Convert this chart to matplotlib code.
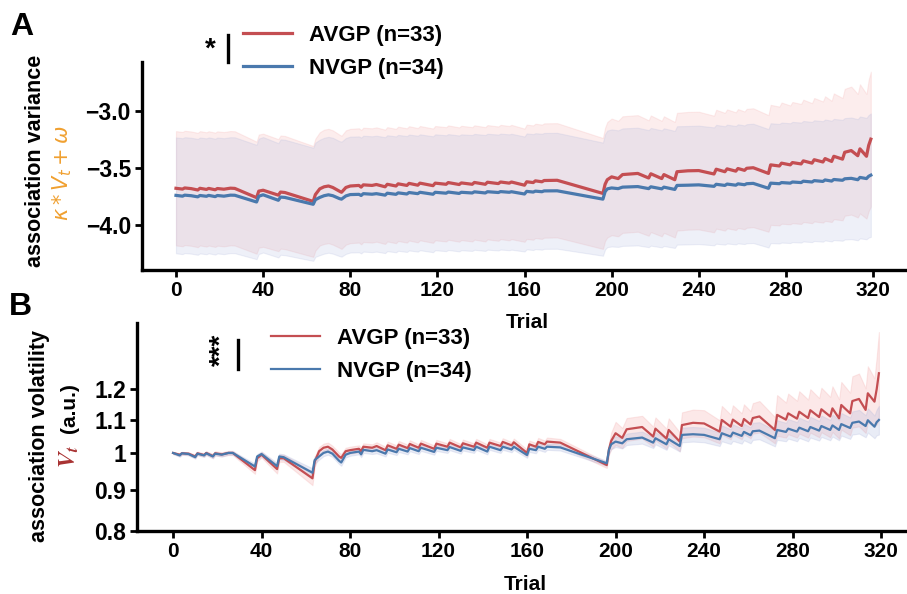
import numpy as np
import matplotlib.pyplot as plt
from matplotlib.lines import Line2D

plt.rcParams['font.family'] = ['Liberation Sans', 'DejaVu Sans']

trials = [0, 3, 4, 7, 10, 11, 14, 15, 18, 19,
          22, 25, 27, 37, 38, 40, 47, 48, 50, 63,
          64, 66, 68, 70, 72, 75, 76, 78, 80, 84,
          85, 86, 90, 92, 96, 97, 101, 102, 106, 107,
          111, 112, 118, 119, 124, 125, 130, 131, 136, 137,
          142, 143, 148, 149, 153, 154, 160, 161, 164, 165,
          168, 169, 175, 196, 197, 198, 200, 203, 205, 212,
          217, 218, 223, 224, 229, 230, 235, 240, 247, 248,
          252, 253, 257, 258, 261, 262, 265, 272, 273, 277,
          278, 282, 283, 287, 288, 292, 293, 297, 298, 301,
          302, 306, 307, 310, 313, 314, 317, 318, 319]

# panel A: association variance (mean and sd)
avgp_var = [-3.675, -3.682, -3.672, -3.678, -3.690, -3.675, -3.685, -3.676, -3.688, -3.677,
            -3.683, -3.674, -3.676, -3.757, -3.700, -3.692, -3.735, -3.708, -3.712, -3.790,
            -3.730, -3.680, -3.662, -3.655, -3.668, -3.700, -3.710, -3.668, -3.655, -3.650,
            -3.665, -3.645, -3.650, -3.642, -3.662, -3.640, -3.655, -3.636, -3.650, -3.632,
            -3.648, -3.630, -3.652, -3.630, -3.640, -3.625, -3.642, -3.628, -3.640, -3.624,
            -3.640, -3.622, -3.634, -3.620, -3.630, -3.620, -3.648, -3.618, -3.625, -3.610,
            -3.618, -3.607, -3.605, -3.720, -3.640, -3.600, -3.575, -3.590, -3.555, -3.545,
            -3.585, -3.548, -3.590, -3.555, -3.600, -3.530, -3.522, -3.520, -3.550, -3.508,
            -3.530, -3.505, -3.525, -3.502, -3.518, -3.500, -3.495, -3.545, -3.470, -3.480,
            -3.455, -3.470, -3.450, -3.462, -3.435, -3.455, -3.425, -3.445, -3.415, -3.440,
            -3.395, -3.420, -3.360, -3.345, -3.390, -3.330, -3.395, -3.300, -3.245]
nvgp_var = [-3.737, -3.744, -3.735, -3.740, -3.750, -3.738, -3.745, -3.737, -3.748, -3.738,
            -3.744, -3.735, -3.736, -3.795, -3.745, -3.732, -3.780, -3.752, -3.755, -3.815,
            -3.775, -3.755, -3.740, -3.732, -3.740, -3.765, -3.770, -3.742, -3.730, -3.728,
            -3.738, -3.722, -3.727, -3.722, -3.735, -3.718, -3.728, -3.715, -3.725, -3.712,
            -3.722, -3.710, -3.727, -3.710, -3.718, -3.708, -3.720, -3.710, -3.716, -3.706,
            -3.716, -3.705, -3.712, -3.704, -3.710, -3.705, -3.725, -3.702, -3.708, -3.700,
            -3.705, -3.698, -3.697, -3.770, -3.705, -3.680, -3.672, -3.678, -3.665, -3.660,
            -3.678, -3.662, -3.680, -3.665, -3.685, -3.650, -3.648, -3.645, -3.658, -3.640,
            -3.650, -3.638, -3.648, -3.636, -3.644, -3.635, -3.632, -3.675, -3.630, -3.635,
            -3.625, -3.630, -3.620, -3.625, -3.613, -3.620, -3.608, -3.615, -3.602, -3.612,
            -3.598, -3.605, -3.592, -3.588, -3.600, -3.580, -3.590, -3.570, -3.560]
avgp_var_sd = [0.500, 0.500, 0.500, 0.500, 0.500, 0.500, 0.500, 0.500, 0.500, 0.500,
               0.500, 0.500, 0.500, 0.490, 0.495, 0.495, 0.490, 0.495, 0.495, 0.485,
               0.490, 0.495, 0.500, 0.500, 0.500, 0.495, 0.495, 0.500, 0.500, 0.500,
               0.500, 0.500, 0.500, 0.500, 0.500, 0.500, 0.500, 0.500, 0.500, 0.500,
               0.500, 0.500, 0.500, 0.500, 0.500, 0.500, 0.500, 0.500, 0.500, 0.500,
               0.500, 0.500, 0.500, 0.500, 0.500, 0.500, 0.495, 0.500, 0.500, 0.500,
               0.500, 0.500, 0.500, 0.485, 0.495, 0.505, 0.510, 0.505, 0.510, 0.510,
               0.505, 0.510, 0.505, 0.510, 0.505, 0.515, 0.515, 0.515, 0.510, 0.520,
               0.515, 0.520, 0.515, 0.520, 0.515, 0.520, 0.520, 0.510, 0.525, 0.520,
               0.530, 0.520, 0.530, 0.525, 0.535, 0.525, 0.540, 0.530, 0.545, 0.530,
               0.550, 0.535, 0.555, 0.560, 0.540, 0.565, 0.545, 0.575, 0.590]
nvgp_var_sd = [0.507, 0.507, 0.507, 0.507, 0.507, 0.507, 0.507, 0.507, 0.507, 0.507,
               0.507, 0.507, 0.507, 0.500, 0.505, 0.505, 0.500, 0.505, 0.505, 0.495,
               0.500, 0.505, 0.507, 0.507, 0.507, 0.503, 0.503, 0.507, 0.507, 0.507,
               0.507, 0.507, 0.507, 0.507, 0.507, 0.507, 0.507, 0.507, 0.507, 0.507,
               0.507, 0.507, 0.507, 0.507, 0.507, 0.507, 0.507, 0.507, 0.507, 0.507,
               0.507, 0.507, 0.507, 0.507, 0.507, 0.507, 0.503, 0.507, 0.507, 0.507,
               0.507, 0.507, 0.507, 0.495, 0.505, 0.510, 0.512, 0.510, 0.514, 0.515,
               0.512, 0.515, 0.512, 0.515, 0.512, 0.518, 0.518, 0.518, 0.516, 0.520,
               0.518, 0.520, 0.518, 0.521, 0.519, 0.521, 0.522, 0.518, 0.524, 0.523,
               0.525, 0.524, 0.526, 0.525, 0.527, 0.526, 0.528, 0.527, 0.529, 0.528,
               0.530, 0.529, 0.531, 0.532, 0.530, 0.533, 0.531, 0.536, 0.540]

# panel B: association volatility (mean and sd)
avgp_vol = [1.000, 0.995, 0.999, 0.998, 0.990, 0.999, 0.994, 1.000, 0.991, 0.999,
            0.996, 1.000, 1.000, 0.952, 0.985, 0.995, 0.955, 0.985, 0.985, 0.930,
            0.975, 1.005, 1.015, 1.018, 1.010, 0.990, 0.986, 1.005, 1.008, 1.012,
            1.005, 1.018, 1.015, 1.020, 1.008, 1.022, 1.012, 1.024, 1.014, 1.026,
            1.015, 1.027, 1.012, 1.027, 1.018, 1.030, 1.016, 1.028, 1.018, 1.030,
            1.015, 1.030, 1.020, 1.032, 1.022, 1.031, 1.000, 1.025, 1.018, 1.032,
            1.025, 1.033, 1.030, 0.966, 1.010, 1.035, 1.058, 1.044, 1.070, 1.077,
            1.048, 1.072, 1.042, 1.068, 1.033, 1.083, 1.090, 1.088, 1.063, 1.099,
            1.078, 1.100, 1.080, 1.102, 1.085, 1.105, 1.110, 1.068, 1.115, 1.100,
            1.120, 1.103, 1.125, 1.105, 1.130, 1.108, 1.133, 1.110, 1.136, 1.104,
            1.147, 1.120, 1.160, 1.167, 1.131, 1.186, 1.158, 1.200, 1.256]
nvgp_vol = [1.000, 0.993, 0.999, 0.997, 0.988, 0.998, 0.993, 0.999, 0.990, 0.998,
            0.995, 1.000, 1.000, 0.962, 0.990, 0.997, 0.963, 0.990, 0.988, 0.945,
            0.980, 0.990, 1.000, 1.004, 0.998, 0.978, 0.973, 0.995, 1.000, 1.004,
            0.996, 1.009, 1.005, 1.008, 0.998, 1.010, 1.002, 1.012, 1.004, 1.014,
            1.005, 1.015, 1.003, 1.015, 1.008, 1.017, 1.006, 1.016, 1.008, 1.018,
            1.004, 1.018, 1.008, 1.018, 1.010, 1.018, 0.994, 1.012, 1.008, 1.018,
            1.012, 1.018, 1.016, 0.971, 1.009, 1.025, 1.033, 1.028, 1.040, 1.045,
            1.030, 1.043, 1.025, 1.040, 1.020, 1.053, 1.055, 1.053, 1.040, 1.058,
            1.048, 1.060, 1.050, 1.062, 1.052, 1.064, 1.066, 1.043, 1.068, 1.062,
            1.072, 1.063, 1.075, 1.064, 1.077, 1.066, 1.080, 1.068, 1.082, 1.068,
            1.086, 1.074, 1.090, 1.094, 1.080, 1.098, 1.078, 1.092, 1.099]
avgp_vol_sd = [0.003, 0.004, 0.004, 0.004, 0.005, 0.005, 0.005, 0.005, 0.006, 0.006,
               0.006, 0.006, 0.006, 0.010, 0.008, 0.008, 0.012, 0.010, 0.010, 0.018,
               0.014, 0.012, 0.012, 0.012, 0.011, 0.011, 0.011, 0.010, 0.010, 0.010,
               0.010, 0.010, 0.010, 0.011, 0.010, 0.011, 0.010, 0.011, 0.010, 0.011,
               0.010, 0.011, 0.010, 0.011, 0.010, 0.011, 0.010, 0.011, 0.010, 0.011,
               0.010, 0.011, 0.010, 0.011, 0.010, 0.011, 0.010, 0.011, 0.011, 0.012,
               0.011, 0.012, 0.011, 0.008, 0.015, 0.025, 0.035, 0.030, 0.035, 0.035,
               0.030, 0.035, 0.030, 0.036, 0.028, 0.040, 0.042, 0.042, 0.035, 0.045,
               0.038, 0.046, 0.040, 0.047, 0.042, 0.048, 0.050, 0.040, 0.065, 0.055,
               0.065, 0.058, 0.068, 0.060, 0.070, 0.062, 0.072, 0.064, 0.074, 0.062,
               0.078, 0.068, 0.085, 0.088, 0.072, 0.095, 0.080, 0.115, 0.157]
nvgp_vol_sd = [0.003, 0.004, 0.004, 0.004, 0.004, 0.004, 0.004, 0.005, 0.005, 0.005,
               0.005, 0.005, 0.005, 0.008, 0.007, 0.007, 0.009, 0.008, 0.008, 0.012,
               0.010, 0.009, 0.009, 0.009, 0.009, 0.009, 0.009, 0.008, 0.008, 0.008,
               0.008, 0.009, 0.008, 0.009, 0.008, 0.009, 0.008, 0.009, 0.008, 0.009,
               0.008, 0.009, 0.008, 0.009, 0.008, 0.009, 0.008, 0.009, 0.008, 0.009,
               0.008, 0.009, 0.008, 0.009, 0.008, 0.009, 0.008, 0.009, 0.009, 0.009,
               0.009, 0.009, 0.009, 0.007, 0.010, 0.014, 0.016, 0.015, 0.017, 0.018,
               0.016, 0.018, 0.016, 0.018, 0.016, 0.022, 0.022, 0.022, 0.020, 0.024,
               0.022, 0.025, 0.023, 0.025, 0.024, 0.026, 0.026, 0.024, 0.030, 0.028,
               0.030, 0.029, 0.031, 0.030, 0.032, 0.030, 0.033, 0.031, 0.034, 0.031,
               0.035, 0.033, 0.036, 0.037, 0.034, 0.038, 0.035, 0.040, 0.045]

labels = ['AVGP (n=33)', 'NVGP (n=34)']
xticks = [0, 40, 80, 120, 160, 200, 240, 280, 320]
vol_ticks = [0.8, 0.9, 1.0, 1.1, 1.2]
vol_tick_labels = ['0.8', '0.9', '1', '1.1', '1.2']

RED = '#c44e52'
BLUE = '#4a79ad'
RED_FILL = '#f4a6a6'
BLUE_FILL = '#aab4dc'

W, H = 907, 594


def fx(px):
    return px / W


def fy(py):
    return 1 - py / H


def style_axis(ax):
    for side in ['top', 'right']:
        ax.spines[side].set_visible(False)
    for side in ['left', 'bottom']:
        ax.spines[side].set_linewidth(2.4)
    ax.tick_params(direction='out', length=5, width=2, pad=3)
    ax.tick_params(axis='x', labelsize=15)
    ax.tick_params(axis='y', labelsize=16.5)
    ax.set_xticks(xticks)
    for lab in ax.get_xticklabels() + ax.get_yticklabels():
        lab.set_fontweight('bold')


fig = plt.figure(figsize=(W / 100, H / 100), dpi=100)
t = np.array(trials)

# ---- panel A ----
axA = fig.add_axes([fx(142), fy(270), 1 - fx(142), fy(62) - fy(270)])
groups_a = [(avgp_var, avgp_var_sd, RED, RED_FILL), (nvgp_var, nvgp_var_sd, BLUE, BLUE_FILL)]
for mean, sd, col, fcol in groups_a:
    m, s = np.array(mean), np.array(sd)
    axA.fill_between(t, m - s, m + s, color=fcol, alpha=0.2, lw=0.8)
handles_a = []
for (mean, sd, col, fcol), lab in zip(groups_a, labels):
    ln, = axA.plot(t, mean, color=col, lw=2.3, label=lab)
    handles_a.append(ln)
axA.set_xlim(-15.6, 335.6)
axA.set_ylim(-4.39, -2.57)
axA.set_yticks([-4.0, -3.5, -3.0])
style_axis(axA)
axA.legend(handles=handles_a, loc='upper left', bbox_to_anchor=(fx(243), fy(25)),
           bbox_transform=fig.transFigure, frameon=False, borderpad=0, borderaxespad=0,
           handlelength=2.2, handletextpad=0.75, labelspacing=0.55,
           prop={'size': 16, 'weight': 'bold'})

# ---- panel B ----
axB = fig.add_axes([fx(137), fy(531), 1 - fx(137), fy(323) - fy(531)])
groups_b = [(avgp_vol, avgp_vol_sd, RED, RED_FILL), (nvgp_vol, nvgp_vol_sd, BLUE, BLUE_FILL)]
for mean, sd, col, fcol in groups_b:
    m, s = np.array(mean), np.array(sd)
    axB.fill_between(t, m - s, m + s, color=fcol, alpha=0.25, lw=0.8)
handles_b = []
for (mean, sd, col, fcol), lab in zip(groups_b, labels):
    ln, = axB.plot(t, mean, color=col, lw=1.6, label=lab)
    handles_b.append(ln)
axB.set_yscale('log')
axB.set_xlim(-16.3, 331.7)
axB.set_ylim(0.8, 1.45)
axB.set_yticks(vol_ticks)
axB.set_yticklabels(vol_tick_labels)
axB.yaxis.set_minor_locator(plt.NullLocator())
style_axis(axB)
axB.legend(handles=handles_b, loc='upper left', bbox_to_anchor=(fx(271), fy(328)),
           bbox_transform=fig.transFigure, frameon=False, borderpad=0, borderaxespad=0,
           handlelength=2.2, handletextpad=0.75, labelspacing=0.55,
           prop={'size': 16, 'weight': 'bold'})

# ---- texts ----
fig.text(fx(22), fy(27), 'A', fontsize=23, fontweight='bold', ha='center', va='center')
fig.text(fx(20), fy(307), 'B', fontsize=23, fontweight='bold', ha='center', va='center')

fig.text(fx(527), fy(323), 'Trial', fontsize=15, fontweight='bold', ha='center', va='center')
fig.text(fx(525), fy(584), 'Trial', fontsize=15, fontweight='bold', ha='center', va='center')

fig.text(fx(36), fy(161), 'association variance', rotation=90, fontsize=15.5,
         fontweight='bold', ha='center', va='center')
fig.text(fx(62), fy(173), r'$\kappa * V_t + \omega$', rotation=90, fontsize=15,
         color='#f0a030', ha='center', va='center')

fig.text(fx(40), fy(436), 'association volatility', rotation=90, fontsize=15.5,
         fontweight='bold', ha='center', va='center')
fig.text(fx(69), fy(408), '(a.u.)', rotation=90, fontsize=15,
         fontweight='bold', ha='center', va='center')
fig.text(fx(69), fy(457), r'$\mathbfit{V}_{\mathbfit{t}}$', rotation=90, fontsize=17,
         color='#a83232', ha='center', va='center', math_fontfamily='stix')

# significance marks
fig.text(fx(210), fy(50), '*', fontsize=20, fontweight='bold', ha='center', va='center')
fig.add_artist(Line2D([fx(228), fx(228)], [fy(35), fy(62)], color='k', lw=2.4))
fig.text(fx(222), fy(350), '***', rotation=90, fontsize=20, fontweight='bold',
         ha='center', va='center')
fig.add_artist(Line2D([fx(238), fx(238)], [fy(340), fy(369)], color='k', lw=2.4))

fig.savefig('out.png', dpi=100)
